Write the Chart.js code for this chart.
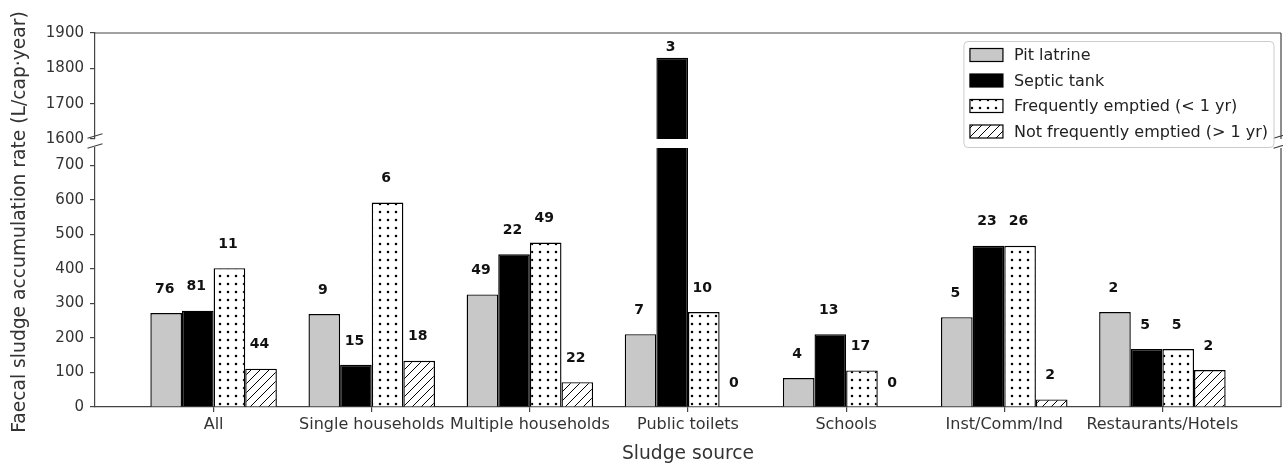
<!DOCTYPE html>
<html>
<head>
<meta charset="utf-8">
<script src="https://cdn.jsdelivr.net/npm/chart.js@4.4.0/dist/chart.umd.min.js"></script>
<style>
  html, body { margin: 0; padding: 0; background: #fff; }
  #wrap { position: relative; width: 1283px; height: 465px; }
  #wrap canvas { position: absolute; left: 0; top: 0; }
</style>
</head>
<body>
<div id="wrap">
  <canvas id="lowerChart" width="1283" height="465"></canvas>
  <canvas id="upperChart" width="1283" height="465"></canvas>
</div>
<script>
// categories and series
const categories = ['All', 'Single households', 'Multiple households', 'Public toilets', 'Schools', 'Inst/Comm/Ind', 'Restaurants/Hotels'];
const seriesNames = ['Pit latrine', 'Septic tank', 'Frequently emptied (< 1 yr)', 'Not frequently emptied (> 1 yr)'];

// accumulation rate (L/cap·year)
const pitLatrine     = [272, 269, 326, 211, 84, 260, 275];
const septicTank     = [279, 122, 442, 1830, 211, 467, 168];
const freqEmptied    = [402, 592, 476, 275, 106, 467, 168];
const notFreqEmptied = [111, 134, 72, 0, 0, 22, 107];

// number of samples shown above each bar
const nPit     = [76, 9, 49, 7, 4, 5, 2];
const nSeptic  = [81, 15, 22, 3, 13, 23, 5];
const nFreq    = [11, 6, 49, 10, 17, 26, 5];
const nNotFreq = [44, 18, 22, 0, 0, 2, 2];

// y tick labels of the two panels (broken axis)
const lowerYTicks = [0, 100, 200, 300, 400, 500, 600, 700];
const upperYTicks = [1600, 1700, 1800, 1900];

const seriesValues = [pitLatrine, septicTank, freqEmptied, notFreqEmptied];
const seriesCounts = [nPit, nSeptic, nFreq, nNotFreq];

Chart.defaults.font.family = '"DejaVu Sans", sans-serif';
Chart.defaults.color = '#333';

const AXIS = '#444';

function dotPattern() {
    const c = document.createElement('canvas');
    c.width = 8; c.height = 8;
    const g = c.getContext('2d');
    g.fillStyle = '#fff';
    g.fillRect(0, 0, 8, 8);
    g.fillStyle = '#000';
    g.beginPath();
    g.arc(4, 4, 1.25, 0, Math.PI * 2);
    g.fill();
    return g.createPattern(c, 'repeat');
}

function hatchPattern() {
    const s = 9;
    const c = document.createElement('canvas');
    c.width = s; c.height = s;
    const g = c.getContext('2d');
    g.fillStyle = '#fff';
    g.fillRect(0, 0, s, s);
    g.strokeStyle = '#000';
    g.lineWidth = 1;
    g.beginPath();
    g.moveTo(0, s); g.lineTo(s, 0);
    g.moveTo(-1, 1); g.lineTo(1, -1);
    g.moveTo(s - 1, s + 1); g.lineTo(s + 1, s - 1);
    g.stroke();
    return g.createPattern(c, 'repeat');
}

const fills = ['#c8c8c8', '#000000', dotPattern(), hatchPattern()];

function makeDatasets() {
    return seriesNames.map((name, k) => ({
        label: name,
        data: seriesValues[k].map((v, i) => ({ x: i, y: v })),
        backgroundColor: fills[k],
        borderColor: '#000',
        borderWidth: 1.4,
        categoryPercentage: 0.8,
        barPercentage: 1.0,
        clip: 0
    }));
}

function xScale(display) {
    return {
        type: 'linear',
        min: -0.75,
        max: 6.75,
        offset: false,
        bounds: 'data',
        display: display,
        afterBuildTicks: s => { s.ticks = categories.map((c, i) => ({ value: i })); },
        afterFit: s => { if (display) s.height = 58; },
        grid: { offset: false, drawOnChartArea: false, color: AXIS, tickLength: 5, lineWidth: 1.2 },
        border: { color: AXIS, width: 1.2 },
        ticks: {
            autoSkip: false,
            maxRotation: 0,
            padding: 3,
            font: { size: 16 },
            callback: v => categories[v]
        },
        title: {
            display: true,
            text: 'Sludge source',
            font: { size: 18.7 },
            padding: { top: 0, bottom: 0 }
        }
    };
}

function yScale(min, max, tickValues) {
    return {
        min: min,
        max: max,
        afterBuildTicks: s => { s.ticks = tickValues.map(v => ({ value: v })); },
        afterFit: s => { s.width = 95; },
        grid: { drawOnChartArea: false, color: AXIS, tickLength: 5, lineWidth: 1.2 },
        border: { color: AXIS, width: 1.2 },
        ticks: { autoSkip: false, padding: 6, font: { size: 15 }, callback: v => String(v) }
    };
}

// sample counts above the bars
const countLabels = {
    id: 'countLabels',
    afterDatasetsDraw(chart, args, opts) {
        const { ctx } = chart;
        const y = chart.scales.y;
        ctx.save();
        ctx.font = 'bold 14px "DejaVu Sans"';
        ctx.fillStyle = '#111';
        ctx.textAlign = 'center';
        ctx.textBaseline = 'middle';
        chart.data.datasets.forEach((ds, k) => {
            chart.getDatasetMeta(k).data.forEach((bar, i) => {
                const v = seriesValues[k][i];
                if (v < y.min || v > y.max) return;
                ctx.fillText(String(seriesCounts[k][i]), bar.x - 1.5, bar.y - opts.gap);
            });
        });
        ctx.restore();
    }
};

// remaining spines and the break marks
const frame = {
    id: 'frame',
    afterDraw(chart, args, opts) {
        const { ctx, chartArea: a } = chart;
        ctx.save();
        ctx.strokeStyle = AXIS;
        ctx.lineWidth = 1.2;
        ctx.beginPath();
        ctx.moveTo(a.right, a.top);
        ctx.lineTo(a.right, a.bottom);
        if (opts.top) {
            ctx.moveTo(a.left, a.top);
            ctx.lineTo(a.right, a.top);
        }
        const yb = opts.breakAt === 'bottom' ? a.bottom - 3 : a.top - 2;
        [a.left, a.right].forEach(x => {
            ctx.moveTo(x - 7.5, yb + 2.3);
            ctx.lineTo(x + 7.5, yb - 2.3);
        });
        ctx.stroke();
        ctx.restore();
    }
};

// y title spans both panels
const yTitle = {
    id: 'yTitle',
    afterDraw(chart) {
        const { ctx } = chart;
        ctx.save();
        ctx.translate(20, 222);
        ctx.rotate(-Math.PI / 2);
        ctx.font = '18.7px "DejaVu Sans"';
        ctx.fillStyle = '#333';
        ctx.textAlign = 'center';
        ctx.textBaseline = 'middle';
        ctx.fillText('Faecal sludge accumulation rate (L/cap\u00b7year)', 0, 0);
        ctx.restore();
    }
};

// legend box in the upper right corner
const boxLegend = {
    id: 'boxLegend',
    afterDraw(chart) {
        const { ctx, chartArea: a } = chart;
        ctx.save();
        ctx.font = '16px "DejaVu Sans"';
        const textW = Math.max(...seriesNames.map(n => ctx.measureText(n).width));
        const sw = 33, sh = 13, pad = 6, gap = 11, row = 25.5;
        const w = pad + sw + gap + textW + pad;
        const h = 106;
        const right = a.right - 7;
        const left = right - w;
        const top = a.top + 8.5;
        ctx.fillStyle = 'rgba(255,255,255,0.85)';
        ctx.strokeStyle = '#cccccc';
        ctx.lineWidth = 1;
        ctx.beginPath();
        ctx.roundRect(left, top, w, h, 4);
        ctx.fill();
        ctx.stroke();
        ctx.textBaseline = 'middle';
        ctx.textAlign = 'left';
        chart.data.datasets.forEach((ds, k) => {
            const cy = top + 13.5 + k * row;
            ctx.fillStyle = ds.backgroundColor;
            ctx.fillRect(left + pad, cy - sh / 2, sw, sh);
            ctx.strokeStyle = '#000';
            ctx.lineWidth = 1.2;
            ctx.strokeRect(left + pad, cy - sh / 2, sw, sh);
            ctx.fillStyle = '#222';
            ctx.fillText(ds.label, left + pad + sw + gap, cy + 1);
        });
        ctx.restore();
    }
};

// lower panel: 0 - 750
new Chart(document.getElementById('lowerChart'), {
    type: 'bar',
    data: { datasets: makeDatasets() },
    options: {
        responsive: false,
        animation: false,
        layout: { padding: { top: 148, left: 0, right: 2, bottom: 0 } },
        scales: {
            x: xScale(true),
            y: yScale(0, 750, lowerYTicks)
        },
        plugins: {
            legend: { display: false },
            tooltip: { enabled: false },
            countLabels: { gap: 24 },
            frame: { top: false, breakAt: 'top' }
        }
    },
    plugins: [countLabels, frame, yTitle]
});

// upper panel: 1600 - 1900
new Chart(document.getElementById('upperChart'), {
    type: 'bar',
    data: { datasets: makeDatasets() },
    options: {
        responsive: false,
        animation: false,
        layout: { padding: { top: 33, left: 0, right: 2, bottom: 326 } },
        scales: {
            x: xScale(false),
            y: yScale(1600, 1900, upperYTicks)
        },
        plugins: {
            legend: { display: false },
            tooltip: { enabled: false },
            countLabels: { gap: 10 },
            frame: { top: true, breakAt: 'bottom' }
        }
    },
    plugins: [countLabels, frame, boxLegend]
});
</script>
</body>
</html>
